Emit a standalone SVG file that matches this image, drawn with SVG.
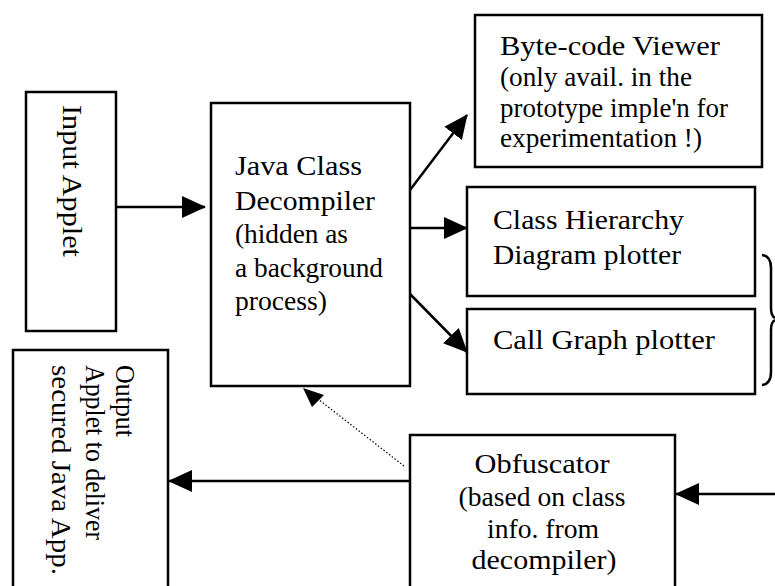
<svg xmlns="http://www.w3.org/2000/svg" width="775" height="586" viewBox="0 0 775 586">
  <style>
    .box { fill: #ffffff; stroke: #000000; stroke-width: 2.5; }
    .lbl { font-family: "Liberation Serif", "Times New Roman", serif; font-size: 28px; fill: #000000; }
    .mid { text-anchor: middle; }
    .edge { fill: none; stroke: #000000; stroke-width: 2.5; }
    .dot { fill: none; stroke: #000000; stroke-width: 1.2; stroke-dasharray: 1.5 2; }
  </style>
  <defs>
    <marker id="head" viewBox="0 0 24 22" refX="23" refY="11" markerWidth="24" markerHeight="22" markerUnits="userSpaceOnUse" orient="auto">
      <path d="M0,0 L24,11 L0,22 Z" fill="#000000"/>
    </marker>
  </defs>
  <rect width="775" height="586" fill="#ffffff"/>

  <g id="connectors">
    <line class="edge" x1="116" y1="207" x2="205" y2="207" marker-end="url(#head)"/>
    <line class="edge" x1="410" y1="190" x2="467" y2="115" marker-end="url(#head)"/>
    <line class="edge" x1="410" y1="228" x2="467" y2="228" marker-end="url(#head)"/>
    <line class="edge" x1="410" y1="294" x2="467" y2="352" marker-end="url(#head)"/>
    <line class="edge" x1="410" y1="481" x2="169" y2="481" marker-end="url(#head)"/>
    <line class="edge" x1="775" y1="494" x2="676" y2="494" marker-end="url(#head)"/>
    <line class="dot" x1="404" y1="466" x2="318" y2="399"/>
    <path d="M303,388 L324,395 L312,407 Z" fill="#000000"/>
    <path class="edge" d="M762,255 Q771,256 771,268 V308 Q771,316 775,318 M775,320 Q771,322 771,330 V372 Q771,384 762,385" stroke-width="2"/>
  </g>

  <g id="input-applet">
    <rect class="box" x="26" y="92" width="90" height="239"/>
    <text class="lbl" transform="translate(63,105) rotate(90)" textLength="152" lengthAdjust="spacingAndGlyphs">Input Applet</text>
  </g>

  <g id="decompiler">
    <rect class="box" x="211" y="103" width="199" height="283"/>
    <text class="lbl" x="235" y="175" textLength="127" lengthAdjust="spacingAndGlyphs">Java Class</text>
    <text class="lbl" x="235" y="210" textLength="140" lengthAdjust="spacingAndGlyphs">Decompiler</text>
    <text class="lbl" x="235" y="243" textLength="113" lengthAdjust="spacingAndGlyphs">(hidden as</text>
    <text class="lbl" x="235" y="277" textLength="148" lengthAdjust="spacingAndGlyphs">a background</text>
    <text class="lbl" x="235" y="310" textLength="92" lengthAdjust="spacingAndGlyphs">process)</text>
  </g>

  <g id="bytecode-viewer">
    <rect class="box" x="475" y="15" width="287" height="152"/>
    <text class="lbl" x="500" y="55" textLength="220" lengthAdjust="spacingAndGlyphs">Byte-code Viewer</text>
    <text class="lbl" x="500" y="86" textLength="192" lengthAdjust="spacingAndGlyphs">(only avail. in the</text>
    <text class="lbl" x="500" y="117" textLength="228" lengthAdjust="spacingAndGlyphs">prototype imple'n for</text>
    <text class="lbl" x="500" y="147" textLength="202" lengthAdjust="spacingAndGlyphs">experimentation !)</text>
  </g>

  <g id="class-hierarchy">
    <rect class="box" x="467" y="187" width="288" height="109"/>
    <text class="lbl" x="493" y="229" textLength="191" lengthAdjust="spacingAndGlyphs">Class Hierarchy</text>
    <text class="lbl" x="493" y="264" textLength="188" lengthAdjust="spacingAndGlyphs">Diagram plotter</text>
  </g>

  <g id="call-graph">
    <rect class="box" x="467" y="309" width="288" height="85"/>
    <text class="lbl" x="493" y="349" textLength="222" lengthAdjust="spacingAndGlyphs">Call Graph plotter</text>
  </g>

  <g id="output-applet">
    <rect class="box" x="13" y="350" width="155" height="250"/>
    <text class="lbl" transform="translate(116,365) rotate(90)" textLength="72" lengthAdjust="spacingAndGlyphs">Output</text>
    <text class="lbl" transform="translate(86,365) rotate(90)" textLength="175" lengthAdjust="spacingAndGlyphs">Applet to deliver</text>
    <text class="lbl" transform="translate(52,365) rotate(90)" textLength="210" lengthAdjust="spacingAndGlyphs">secured  Java App.</text>
  </g>

  <g id="obfuscator">
    <rect class="box" x="410" y="435" width="265" height="165"/>
    <text class="lbl mid" x="542" y="473" textLength="135" lengthAdjust="spacingAndGlyphs">Obfuscator</text>
    <text class="lbl mid" x="542" y="506" textLength="167" lengthAdjust="spacingAndGlyphs">(based on class</text>
    <text class="lbl mid" x="543" y="538" textLength="112" lengthAdjust="spacingAndGlyphs">info. from</text>
    <text class="lbl mid" x="544" y="569" textLength="145" lengthAdjust="spacingAndGlyphs">decompiler)</text>
  </g>
</svg>
